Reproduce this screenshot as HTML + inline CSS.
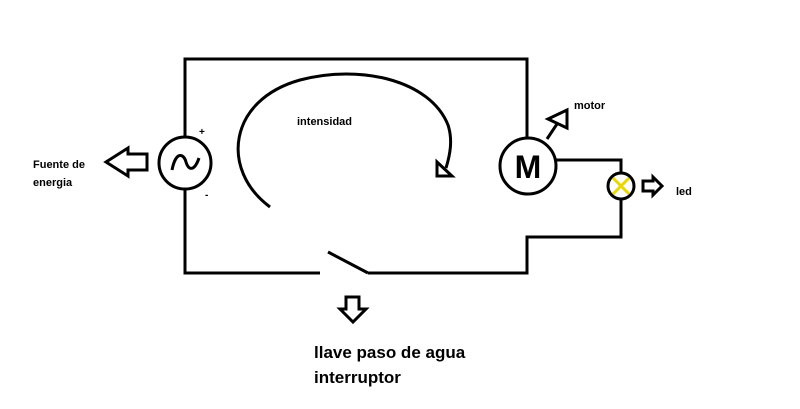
<!DOCTYPE html>
<html><head><meta charset="utf-8"><style>
html,body{margin:0;padding:0;background:#fff;}
svg{display:block;}
text{font-family:"Liberation Sans",Arial,sans-serif;font-weight:bold;fill:#000;}
</style></head><body>
<svg width="800" height="409" viewBox="0 0 800 409" xmlns="http://www.w3.org/2000/svg">
<g fill="none" stroke="#000" stroke-width="3">
<!-- main wires -->
<polyline points="185,137 185,59 527,59 527,138"/>
<polyline points="185,189 185,273 320,273"/>
<line x1="328" y1="252" x2="368" y2="273"/>
<polyline points="368,273 527,273 527,237 621,237 621,199"/>
<polyline points="556,160 621,160 621,173"/>
<!-- source -->
<circle cx="185" cy="163" r="26"/>
<path d="M172,170 C176,150 184,154 186,162 C189,172 195,170 199,158"/>
<!-- motor -->
<circle cx="528" cy="166" r="28"/>
<!-- bulb -->
<circle cx="621" cy="186" r="13"/>
<!-- arc -->
<path d="M270,207 C220,170 228,100 300,80 C360,64 430,80 448,125 C453,140 450,155 446,168"/>
<path d="M437,162 L437,176 L452,176 Z"/>
<!-- left arrow -->
<path d="M147,154 L128,154 L128,148 L106,162 L128,176 L128,170 L147,170 Z"/>
<!-- motor arrow -->
<line x1="547" y1="139" x2="557" y2="124"/>
<path d="M548,119 L567,110 L567,128 Z"/>
<!-- led arrow -->
<path d="M643,181 L653,181 L653,177 L662,186 L653,195 L653,191 L643,191 Z"/>
<!-- down arrow -->
<path d="M346,297 L359,297 L359,309 L366,309 L353,322 L340,309 L346,309 Z"/>
</g>
<g stroke="#e8d800" stroke-width="3">
<line x1="613" y1="178" x2="629" y2="194"/>
<line x1="629" y1="178" x2="613" y2="194"/>
</g>
<text x="528" y="178" font-size="32" text-anchor="middle">M</text>
<text x="199" y="135" font-size="10">+</text>
<text x="205" y="198" font-size="10">-</text>
<text x="297" y="125" font-size="11">intensidad</text>
<text x="574" y="109" font-size="11">motor</text>
<text x="676" y="195" font-size="11">led</text>
<text x="33" y="168" font-size="11">Fuente de</text>
<text x="33" y="186" font-size="11">energia</text>
<text x="314" y="358" font-size="17">llave paso de agua</text>
<text x="314" y="383" font-size="17">interruptor</text>
</svg>
</body></html>
